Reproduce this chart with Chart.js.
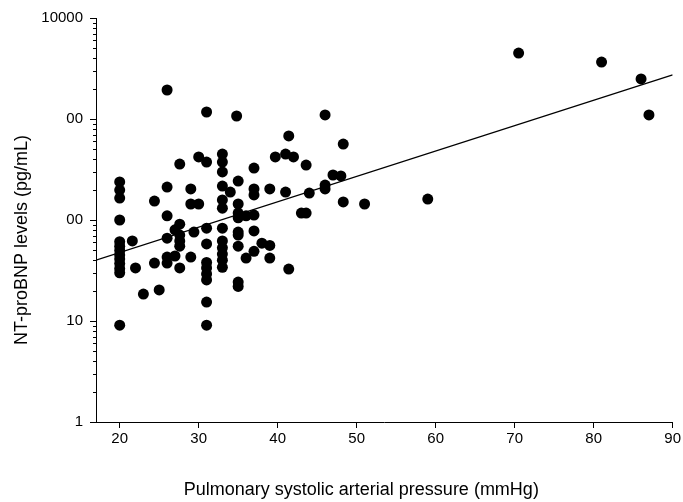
<!DOCTYPE html>
<html>
<head>
<meta charset="utf-8">
<script src="https://cdn.jsdelivr.net/npm/chart.js@4.4.1/dist/chart.umd.min.js"></script>
<style>
    html, body { margin: 0; padding: 0; background: #ffffff; }
    #wrap { width: 683px; height: 502px; }
</style>
</head>
<body>
<div id="wrap"><canvas id="psapChart" width="683" height="502"></canvas></div>
<script>
// Pulmonary systolic arterial pressure (mmHg), one entry per patient
const pressure = [
    20, 20, 20, 20, 20, 20, 20, 20, 20, 20, 20, 20, 20,
    21.6, 22, 23, 24.4, 24.4, 25,
    26, 26, 26, 26, 26, 26,
    27, 27, 27.6, 27.6, 27.6, 27.6, 27.6, 27.6,
    29, 29, 29, 29.4, 30, 30,
    31, 31, 31, 31, 31, 31, 31, 31, 31, 31,
    33, 33, 33, 33, 33, 33, 33, 33, 33, 33, 33, 33,
    34, 34.8,
    35, 35, 35, 35, 35, 35, 35, 35, 35,
    36, 36, 37, 37, 37, 37, 37, 37,
    38, 39, 39, 39, 39.7, 41, 41, 41.4, 41.4, 42,
    43, 43.6, 43.6, 44, 46, 46, 46, 47, 48, 48.3, 48.3,
    51, 59, 70.5, 81, 86, 87
];

// NT-proBNP levels (pg/mL), same order as pressure
const ntproBNP = [
    238, 198, 165, 100, 61, 55, 50, 45, 41, 37, 33, 30, 9.1,
    62, 33.5, 18.5, 154, 37.5, 20.3,
    1937, 212, 110, 66, 43, 37.5,
    80, 44, 358, 91, 71, 62, 55, 33.5,
    203, 144, 43, 76, 421, 144,
    1173, 375, 83, 58, 38, 33.5, 29.2, 25.5, 15.4, 9.1,
    450, 375, 299, 217, 158, 131, 83, 62, 53, 46, 40, 34,
    189, 1071,
    243, 144, 117, 105, 76, 71, 55, 24.3, 22,
    110, 42, 327, 203, 177, 112, 78, 49,
    59, 203, 56, 42, 421, 450, 189, 679, 32.7, 421,
    117, 350, 117, 185, 1096, 222, 203, 279, 273, 565, 151,
    144, 161, 4500, 3665, 2490, 1096
];

// Regression line end points
const fitX = [17, 90];
const fitY = [40, 2730];

const xTickValues = [20, 30, 40, 50, 60, 70, 80, 90];
const yTickValues = [1, 10, 100, 1000, 10000];
const yTickLabels = ['1', '10', '00', '00', '10000'];

const xTitle = 'Pulmonary systolic arterial pressure (mmHg)';
const yTitle = 'NT-proBNP levels (pg/mL)';

const FONT = "'Liberation Sans', Arial, sans-serif";
Chart.defaults.font.family = FONT;
Chart.defaults.color = '#000000';

// small minor ticks on the log axis (2..9 of every decade)
const minorTicks = {
    id: 'minorTicks',
    afterDraw(chart) {
        const y = chart.scales.y;
        const ctx = chart.ctx;
        ctx.save();
        ctx.strokeStyle = '#000000';
        ctx.lineWidth = 1;
        ctx.beginPath();
        for (let d = 1; d < 10000; d *= 10) {
            for (let m = 2; m <= 9; m++) {
                const py = Math.round(y.getPixelForValue(d * m)) + 0.5;
                ctx.moveTo(y.right - 3, py);
                ctx.lineTo(y.right, py);
            }
        }
        ctx.stroke();
        ctx.restore();
    }
};

// axis titles sit a bit off the plot centre in the original figure
const axisTitles = {
    id: 'axisTitles',
    afterDraw(chart) {
        const { ctx, chartArea } = chart;
        ctx.save();
        ctx.fillStyle = '#000000';
        ctx.font = '18px ' + FONT;
        ctx.textAlign = 'center';
        ctx.textBaseline = 'middle';
        ctx.fillText(xTitle, (chartArea.left + chartArea.right) / 2 - 23, chart.height - 12);
        ctx.translate(22, (chartArea.top + chartArea.bottom) / 2 + 20);
        ctx.rotate(-Math.PI / 2);
        ctx.fillText(yTitle, 0, 0);
        ctx.restore();
    }
};

new Chart(document.getElementById('psapChart'), {
    type: 'scatter',
    data: {
        datasets: [{
            label: 'Patients',
            data: pressure.map((x, i) => ({ x: x, y: ntproBNP[i] })),
            backgroundColor: '#000000',
            borderWidth: 0,
            pointRadius: 5.5,
            pointHoverRadius: 5.5
        }, {
            type: 'line',
            label: 'Fit',
            data: fitX.map((x, i) => ({ x: x, y: fitY[i] })),
            borderColor: '#000000',
            borderWidth: 1.3,
            pointRadius: 0,
            fill: false,
            tension: 0
        }]
    },
    options: {
        responsive: false,
        animation: false,
        layout: { padding: { top: 18, right: 8, bottom: 0, left: 0 } },
        plugins: {
            legend: { display: false },
            tooltip: { enabled: false }
        },
        scales: {
            x: {
                type: 'linear',
                min: 17,
                max: 90,
                afterBuildTicks: (scale) => { scale.ticks = xTickValues.map(v => ({ value: v })); },
                afterFit: (scale) => { scale.height = 80; },
                grid: { display: true, drawOnChartArea: false, drawTicks: true, tickLength: 6, color: '#000000', tickColor: '#000000' },
                border: { display: true, color: '#000000', width: 1 },
                ticks: { color: '#000000', font: { size: 15 }, padding: 2, maxRotation: 0 }
            },
            y: {
                type: 'logarithmic',
                min: 1,
                max: 10000,
                afterBuildTicks: (scale) => { scale.ticks = yTickValues.map(v => ({ value: v })); },
                afterFit: (scale) => { scale.width = 96; },
                grid: { display: true, drawOnChartArea: false, drawTicks: true, tickLength: 6, color: '#000000', tickColor: '#000000' },
                border: { display: true, color: '#000000', width: 1 },
                ticks: {
                    color: '#000000',
                    font: { size: 15 },
                    padding: 7,
                    callback: (value) => {
                        const i = yTickValues.indexOf(value);
                        return i >= 0 ? yTickLabels[i] : '';
                    }
                }
            }
        }
    },
    plugins: [minorTicks, axisTitles]
});
</script>
</body>
</html>
